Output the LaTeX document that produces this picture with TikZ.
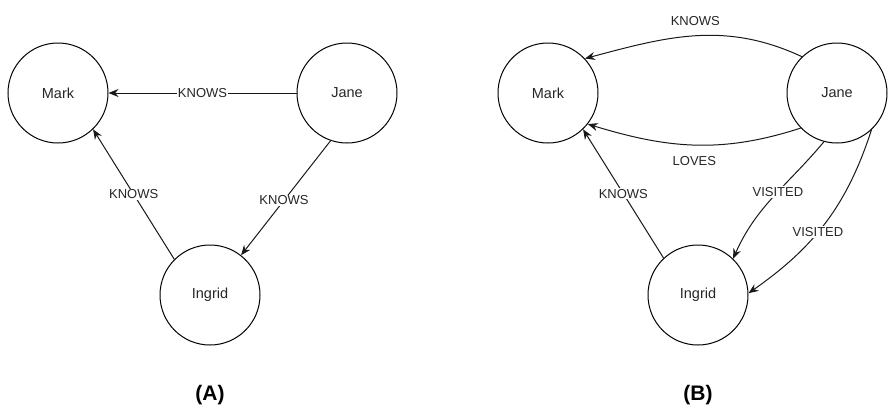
\documentclass[tikz,border=0pt]{standalone}
\usepackage{fontspec}
\setmainfont{Liberation Sans}
\usetikzlibrary{arrows.meta}
\begin{document}
\begin{tikzpicture}[x=1pt,y=-1pt,
  person/.style={circle,draw=black,line width=1pt,minimum size=100pt,inner sep=0pt,
    font=\fontsize{14.5}{17}\selectfont,text=black!85},
  rel/.style={line width=1pt,draw=black!90,-{Stealth[length=10pt,width=8pt]}},
  lbl/.style={fill=white,inner sep=1pt,font=\fontsize{13}{15}\selectfont,text=black!85},
  panel/.style={font=\bfseries\fontsize{21}{25}\selectfont,text=black}]
\useasboundingbox (0,0) rectangle (895,418);
% Panel A
\node[person] (markA) at (58,93) {Mark};
\node[person] (janeA) at (347,93) {Jane};
\node[person] (ingridA) at (210,295) {Ingrid};
\draw[rel] (janeA) -- node[lbl,pos=0.5] {KNOWS} (markA);
\draw[rel] (janeA.-109) -- node[lbl,pos=0.52] {KNOWS} (ingridA.52);
\draw[rel] (ingridA.135) -- node[lbl,pos=0.5] {KNOWS} (markA.-46);
\node[panel] (labA) at (210,395) {(A)};
% Panel B
\node[person] (markB) at (548,93) {Mark};
\node[person] (janeB) at (837,93) {Jane};
\node[person] (ingridB) at (698,295) {Ingrid};
\draw[rel] (janeB.134) to[out=155,in=15] node[midway,above=9pt,lbl] {KNOWS} (markB.43);
\draw[rel] (janeB.-136) to[out=-162,in=-17] node[midway,below=10pt,lbl] {LOVES} (markB.-38);
\draw[rel] (ingridB.133) -- node[lbl,pos=0.5] {KNOWS} (markB.-46);
\draw[rel] (janeB.-105) to[out=-130,in=66] node[lbl,pos=0.45] {VISITED} (ingridB.46);
\draw[rel] (janeB.-47) to[out=-108,in=35] node[lbl,pos=0.56] {VISITED} (ingridB.2);
\node[panel] (labB) at (698,395) {(B)};
\end{tikzpicture}
\end{document}
